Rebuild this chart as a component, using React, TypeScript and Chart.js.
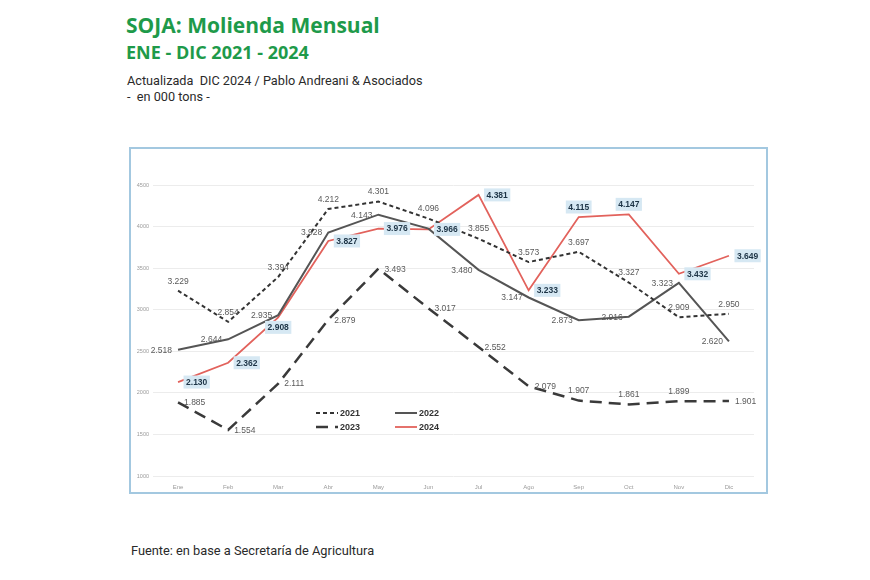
import React, { useEffect, useRef } from "react";
import { Chart, registerables } from "chart.js";
Chart.register(...registerables);

const months = ["Ene", "Feb", "Mar", "Abr", "May", "Jun", "Jul", "Ago", "Sep", "Oct", "Nov", "Dic"];
const s2021 = [3229, 2854, 3394, 4212, 4301, 4096, 3855, 3573, 3697, 3327, 2909, 2950];
const s2022 = [2518, 2644, 2935, 3928, 4143, 3975, 3480, 3147, 2873, 2916, 3323, 2620];
const s2023 = [1885, 1554, 2111, 2879, 3493, 3017, 2552, 2079, 1907, 1861, 1899, 1901];
const s2024 = [2130, 2362, 2908, 3827, 3976, 3966, 4381, 3233, 4115, 4147, 3432, 3649];
const seriesNames = ["2021", "2022", "2023", "2024"];
const yMin = 1000;
const yMax = 4500;
const yStep = 500;

// label placement per point: a=above, b=below, l=left, r=right, null=hidden
const labelPlacement: (string | null)[][] = [
  ["a", "a", "a", "a", "a", "a", "a", "a", "a", "a", "a", "a"],
  ["l", "l", "l", "l", "l", null, "l", "l", "l", "l", "l", "l"],
  ["r", "r", "r", "r", "r", "r", "r", "r", "a", "a", "a", "r"],
  ["r", "r", "b", "r", "r", "r", "r", "r", "a", "a", "r", "r"],
];

const fmt = (v: number) => Math.floor(v / 1000) + "." + String(v % 1000).padStart(3, "0");

const labelPlugin = {
  id: "pointLabels",
  afterDatasetsDraw(chart: any) {
    const ctx = chart.ctx;
    ctx.save();
    chart.data.datasets.forEach((ds: any, di: number) => {
      const meta = chart.getDatasetMeta(di);
      const bold = di === 3;
      ctx.font = (bold ? "bold " : "") + "8.5px 'Liberation Sans', Arial, sans-serif";
      ctx.textBaseline = "middle";
      meta.data.forEach((el: any, i: number) => {
        const pos = labelPlacement[di][i];
        if (!pos) return;
        const txt = fmt(ds.data[i]);
        const w = ctx.measureText(txt).width;
        let cx = el.x;
        let cy = el.y;
        const gap = 6;
        if (pos === "a") cy -= 10;
        else if (pos === "b") cy += 10;
        else if (pos === "l") cx = el.x - gap - w / 2;
        else if (pos === "r") cx = el.x + gap + (bold ? 2 : 0) + w / 2;
        if (bold) {
          ctx.fillStyle = "#d6e8f3";
          ctx.fillRect(cx - w / 2 - 2.5, cy - 6.5, w + 5, 13);
          ctx.fillStyle = "#1d3446";
        } else {
          ctx.fillStyle = "#5a5a5a";
        }
        ctx.textAlign = "center";
        ctx.fillText(txt, cx, cy + 0.5);
      });
    });
    ctx.restore();
  },
};

const legendPlugin = {
  id: "innerLegend",
  afterDraw(chart: any) {
    const ctx = chart.ctx;
    const a = chart.chartArea;
    const cols = [a.left + 163, a.left + 242];
    const rows = [a.top + 228, a.top + 242];
    ctx.save();
    ctx.font = "bold 9px 'Liberation Sans', Arial, sans-serif";
    ctx.textBaseline = "middle";
    ctx.textAlign = "left";
    chart.data.datasets.forEach((ds: any, i: number) => {
      const x = cols[i % 2];
      const y = rows[Math.floor(i / 2)];
      ctx.beginPath();
      ctx.strokeStyle = ds.borderColor;
      ctx.lineWidth = ds.borderWidth;
      ctx.setLineDash(ds.borderDash || []);
      ctx.moveTo(x, y);
      ctx.lineTo(x + 22, y);
      ctx.stroke();
      ctx.setLineDash([]);
      ctx.fillStyle = "#333";
      ctx.fillText(ds.label, x + 24, y + 0.5);
    });
    ctx.restore();
  },
};

function ChartView() {
  const ref = useRef<HTMLCanvasElement | null>(null);
  useEffect(() => {
    if (!ref.current) return;
    const chart = new Chart(ref.current, {
      type: "line",
      data: {
        labels: months,
        datasets: [
          { label: seriesNames[0], data: s2021, borderColor: "#333333", borderWidth: 2, borderDash: [4, 3], pointRadius: 0, tension: 0 },
          { label: seriesNames[1], data: s2022, borderColor: "#555555", borderWidth: 2, pointRadius: 0, tension: 0 },
          { label: seriesNames[2], data: s2023, borderColor: "#3a3a3a", borderWidth: 2.5, borderDash: [12, 7], pointRadius: 0, tension: 0 },
          { label: seriesNames[3], data: s2024, borderColor: "#e2625c", borderWidth: 1.8, pointRadius: 0, tension: 0 },
        ],
      },
      options: {
        responsive: false,
        animation: false,
        devicePixelRatio: 1,
        layout: { padding: { top: 36, right: 12, left: 0, bottom: 0 } },
        plugins: { legend: { display: false }, tooltip: { enabled: false } },
        scales: {
          x: {
            offset: true,
            grid: { display: false },
            border: { display: false },
            ticks: { color: "#9a9a9a", font: { size: 6, family: "'Liberation Sans', Arial" }, padding: 0, maxRotation: 0 },
            afterFit: (s: any) => { s.height = 16; },
          },
          y: {
            min: yMin,
            max: yMax,
            grid: { color: "#ececec", drawTicks: false },
            border: { display: false },
            ticks: { stepSize: yStep, color: "#9a9a9a", font: { size: 5.5, family: "'Liberation Sans', Arial" }, padding: 4, callback: (v: any) => String(v) },
            afterFit: (s: any) => { s.width = 22; },
          },
        },
      },
      plugins: [labelPlugin, legendPlugin],
    } as any);
    return () => chart.destroy();
  }, []);
  return <canvas ref={ref} width={635} height={343} style={{ display: "block" }} />;
}

export default function App() {
  const base: React.CSSProperties = { position: "absolute", whiteSpace: "nowrap", fontFamily: "Roboto, 'Noto Sans', sans-serif" };
  const titleFont = "'Open Sans', 'Noto Sans', sans-serif";
  return (
    <div style={{ position: "absolute", left: 0, top: 0, width: 870, height: 580, background: "#fff" }}>
      <div style={{ ...base, fontFamily: titleFont, left: 126, top: 13, fontSize: 21, lineHeight: "25px", fontWeight: 700, color: "#1e9a4a" }}>SOJA: Molienda Mensual</div>
      <div style={{ ...base, fontFamily: titleFont, left: 126, top: 41, fontSize: 18, lineHeight: "22px", fontWeight: 700, color: "#1e9a4a" }}>ENE - DIC 2021 - 2024</div>
      <div style={{ ...base, left: 127, top: 74.5, fontSize: 12.7, lineHeight: "12.7px", color: "#2a2a2a" }}>Actualizada&nbsp; DIC 2024 / Pablo Andreani &amp; Asociados</div>
      <div style={{ ...base, left: 127, top: 90.5, fontSize: 12.7, lineHeight: "12.7px", color: "#2a2a2a" }}>-&nbsp; en 000 tons -</div>
      <div style={{ position: "absolute", left: 129, top: 147, width: 635, height: 343, border: "2px solid #a3c8e0" }}>
        <ChartView />
      </div>
      <div style={{ ...base, left: 131, top: 544.5, fontSize: 12.8, lineHeight: "12.8px", color: "#2a2a2a" }}>Fuente: en base a Secretaría de Agricultura</div>
    </div>
  );
}
